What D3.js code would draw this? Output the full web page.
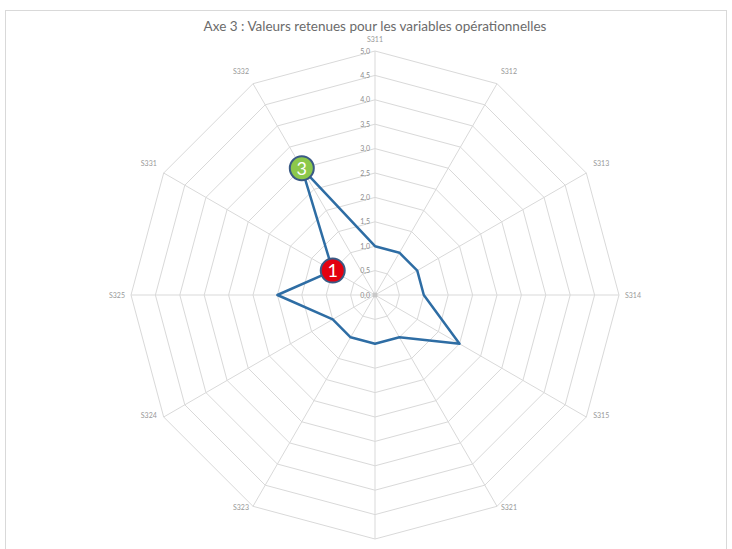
<!DOCTYPE html>
<html><head><meta charset="utf-8">
<script src="https://cdn.jsdelivr.net/npm/d3@7"></script>
<style>body{margin:0;background:#fff}svg{display:block}</style>
</head><body><svg id="c" width="732" height="549"></svg>
<script>
const categories = ["S311","S312","S313","S314","S315","S321","S322","S323","S324","S325","S331","S332"];
const values = [1.0,1.0,1.0,1.0,2.0,1.0,1.0,1.0,1.0,2.0,1.0,3.0];
const tickValues = [0,0.5,1,1.5,2,2.5,3,3.5,4,4.5,5];
const tickLabels = ["0,0","0,5","1,0","1,5","2,0","2,5","3,0","3,5","4,0","4,5","5,0"];
const markerCategories = ["S331","S332"];
const markerTexts = ["1","3"];
const markerColors = ["#e3000f","#8cc84b"];
const title = "Axe 3 : Valeurs retenues pour les variables opérationnelles";

const svg = d3.select("#c");
const W = 732, H = 549;
const cx = 375, cy = 295, R = 244;
const font = "Lato, 'Open Sans', sans-serif";

svg.append("rect").attr("x",5.5).attr("y",10.5).attr("width",721).attr("height",560)
  .attr("fill","none").attr("stroke","#d9d9d9");

const r = d3.scaleLinear().domain([0,5]).range([0,R]);
const ang = d3.scalePoint().domain(categories.concat(["_end"])).range([0, 2*Math.PI]);
const g = svg.append("g").attr("transform",`translate(${cx},${cy})`);
const px = (c,v)=> r(v)*Math.sin(ang(c));
const py = (c,v)=> -r(v)*Math.cos(ang(c));

const ring = d3.line().x(d=>d[0]).y(d=>d[1]).curve(d3.curveLinearClosed);
tickValues.slice(1).forEach(t=>{
  g.append("path").attr("d", ring(categories.map(c=>[px(c,t),py(c,t)])))
   .attr("fill","none").attr("stroke","#d9d9d9").attr("stroke-width",1);
});
categories.forEach(c=>{
  g.append("line").attr("x1",0).attr("y1",0).attr("x2",px(c,5)).attr("y2",py(c,5))
   .attr("stroke","#d9d9d9").attr("stroke-width",1);
});
tickValues.forEach((t,i)=>{
  g.append("text").attr("x",-5).attr("y",-r(t)+2.5).attr("text-anchor","end")
   .attr("font-family",font).attr("font-size",7).attr("fill","#8c8c8c").text(tickLabels[i]);
});
categories.forEach(c=>{
  const a = ang(c);
  const s = Math.sin(a), co = Math.cos(a);
  const lr = R + 12;
  let x = lr*s, y = -lr*co + 2.5;
  let anchor = "middle";
  if (s > 0.3) anchor = "start"; else if (s < -0.3) anchor = "end";
  if (Math.abs(co) > 0.99) { y = co>0 ? -R-12+2.5 : R+14; }
  if (Math.abs(co) < 0.01) { x = s>0 ? R+6 : -R-6; }
  else if (Math.abs(s) > 0.3) { x = (R+8)*s; y = -(R+8)*co - 3; }
  if (cy + y > H) return; // falls below the visible area, as in the reference
  g.append("text").attr("x",x).attr("y",y).attr("text-anchor",anchor)
   .attr("font-family",font).attr("font-size",7).attr("fill","#999").text(c);
});
g.append("circle").attr("r",2.5).attr("fill","#c8c8c8");

const pts = categories.map((c,i)=>[px(c,values[i]),py(c,values[i])]);
g.append("path").attr("d", ring(pts)).attr("fill","none")
 .attr("stroke","#2e6da4").attr("stroke-width",2.5).attr("stroke-linejoin","round");

markerCategories.forEach((c,i)=>{
  const v = values[categories.indexOf(c)];
  const mg = g.append("g").attr("transform",`translate(${px(c,v)},${py(c,v)})`);
  mg.append("circle").attr("r",12).attr("fill",markerColors[i]).attr("stroke","#3a5a85").attr("stroke-width",2);
  mg.append("text").attr("y",6.5).attr("text-anchor","middle").attr("font-family",font)
    .attr("font-size",18).attr("fill","#fff").text(markerTexts[i]);
});

svg.append("text").attr("x",375).attr("y",31).attr("text-anchor","middle")
  .attr("font-family",font).attr("font-size",13.5).attr("fill","#6b6b6b").text(title);
</script></body></html>
